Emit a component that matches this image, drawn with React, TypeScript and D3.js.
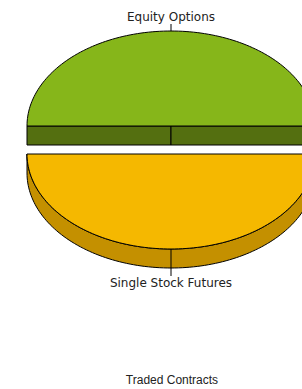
import React, { useEffect, useRef } from "react";
import * as d3 from "d3";

const categories = ["Equity Options", "Single Stock Futures"];
const values = [50, 50];
const topColors = ["#86b61a", "#f5b800"];
const sideColors = ["#546f10", "#c49000"];
const title = "Traded Contracts";

const App = () => {
  const ref = useRef<SVGSVGElement>(null);

  useEffect(() => {
    const width = 302;
    const height = 389;
    const cx = 171;
    const cy = 140;
    const rx = 144;
    const ry = 95;
    const depth = 19;
    const explode = 14;

    const svg = d3.select(ref.current);
    svg.selectAll("*").remove();
    svg.attr("width", width).attr("height", height);

    const data = categories.map((c, i) => ({ name: c, value: values[i], i }));
    const pie = d3
      .pie<any>()
      .value((d) => d.value)
      .sort(null)
      .startAngle(-Math.PI / 2)
      .endAngle((3 * Math.PI) / 2);
    const arcs = pie(data);

    // point on the ellipse rim, angle measured clockwise from 12 o'clock
    const pt = (a: number, ox: number, oy: number): [number, number] => [
      ox + rx * Math.sin(a),
      oy - ry * Math.cos(a),
    ];

    const slices = arcs.map((a) => {
      const mid = (a.startAngle + a.endAngle) / 2;
      const ox = cx + explode * Math.sin(mid);
      const oy = cy - explode * Math.cos(mid);
      return { a, mid, ox, oy };
    });
    // back to front
    slices.sort((p, q) => p.oy - q.oy);

    const line = d3.line();
    const steps = 120;

    slices.forEach(({ a, ox, oy }) => {
      const g = svg.append("g");
      const s = a.startAngle;
      const e = a.endAngle;
      const col = a.data.i;

      // outer wall, only the part facing the viewer (pi/2 .. 3pi/2)
      const ws = Math.max(s, Math.PI / 2);
      const we = Math.min(e, (3 * Math.PI) / 2);
      if (we > ws) {
        const top = d3.range(steps + 1).map((k) => pt(ws + ((we - ws) * k) / steps, ox, oy));
        const bot = top.map(([x, y]) => [x, y + depth] as [number, number]).reverse();
        g.append("path")
          .attr("d", line([...top, ...bot]) + "Z")
          .attr("fill", sideColors[col])
          .attr("stroke", "#000")
          .attr("stroke-width", 1)
          .attr("stroke-linejoin", "round");
      }

      // radial cut faces
      const faces: number[] = [];
      if (Math.sin(s) < -1e-6) faces.push(s);
      if (Math.sin(e) > 1e-6) faces.push(e);
      faces.forEach((ang) => {
        const p = pt(ang, ox, oy);
        g.append("path")
          .attr(
            "d",
            line([
              [ox, oy],
              p,
              [p[0], p[1] + depth],
              [ox, oy + depth],
            ]) + "Z"
          )
          .attr("fill", sideColors[col])
          .attr("stroke", "#000")
          .attr("stroke-width", 1)
          .attr("stroke-linejoin", "round");
      });

      // top face
      const rim = d3.range(steps + 1).map((k) => pt(s + ((e - s) * k) / steps, ox, oy));
      g.append("path")
        .attr("d", line([[ox, oy], ...rim]) + "Z")
        .attr("fill", topColors[col])
        .attr("stroke", "#000")
        .attr("stroke-width", 1)
        .attr("stroke-linejoin", "round");
    });

    // labels with leader lines
    slices.forEach(({ a, mid, ox, oy }) => {
      const up = Math.cos(mid) > 0;
      const [x0, y0] = pt(mid, ox, oy);
      const y1 = up ? y0 - 7 : y0 + 27;
      svg
        .append("line")
        .attr("x1", x0)
        .attr("x2", x0)
        .attr("y1", y0)
        .attr("y2", y1)
        .attr("stroke", "#000")
        .attr("stroke-width", 1);
      svg
        .append("text")
        .attr("x", x0)
        .attr("y", up ? y1 - 3 : y1 + 11)
        .attr("text-anchor", "middle")
        .attr("font-family", "Verdana, 'DejaVu Sans', sans-serif")
        .attr("font-size", 12)
        .attr("fill", "#222")
        .text(a.data.name);
    });

    svg
      .append("text")
      .attr("x", cx + 1)
      .attr("y", 384)
      .attr("text-anchor", "middle")
      .attr("font-family", "Arial, 'Liberation Sans', sans-serif")
      .attr("font-size", 12)
      .attr("fill", "#222")
      .text(title);
  }, []);

  return (
    <div>
      <svg ref={ref} style={{ position: "absolute", left: 0, top: 0 }}></svg>
    </div>
  );
};

export default App;
